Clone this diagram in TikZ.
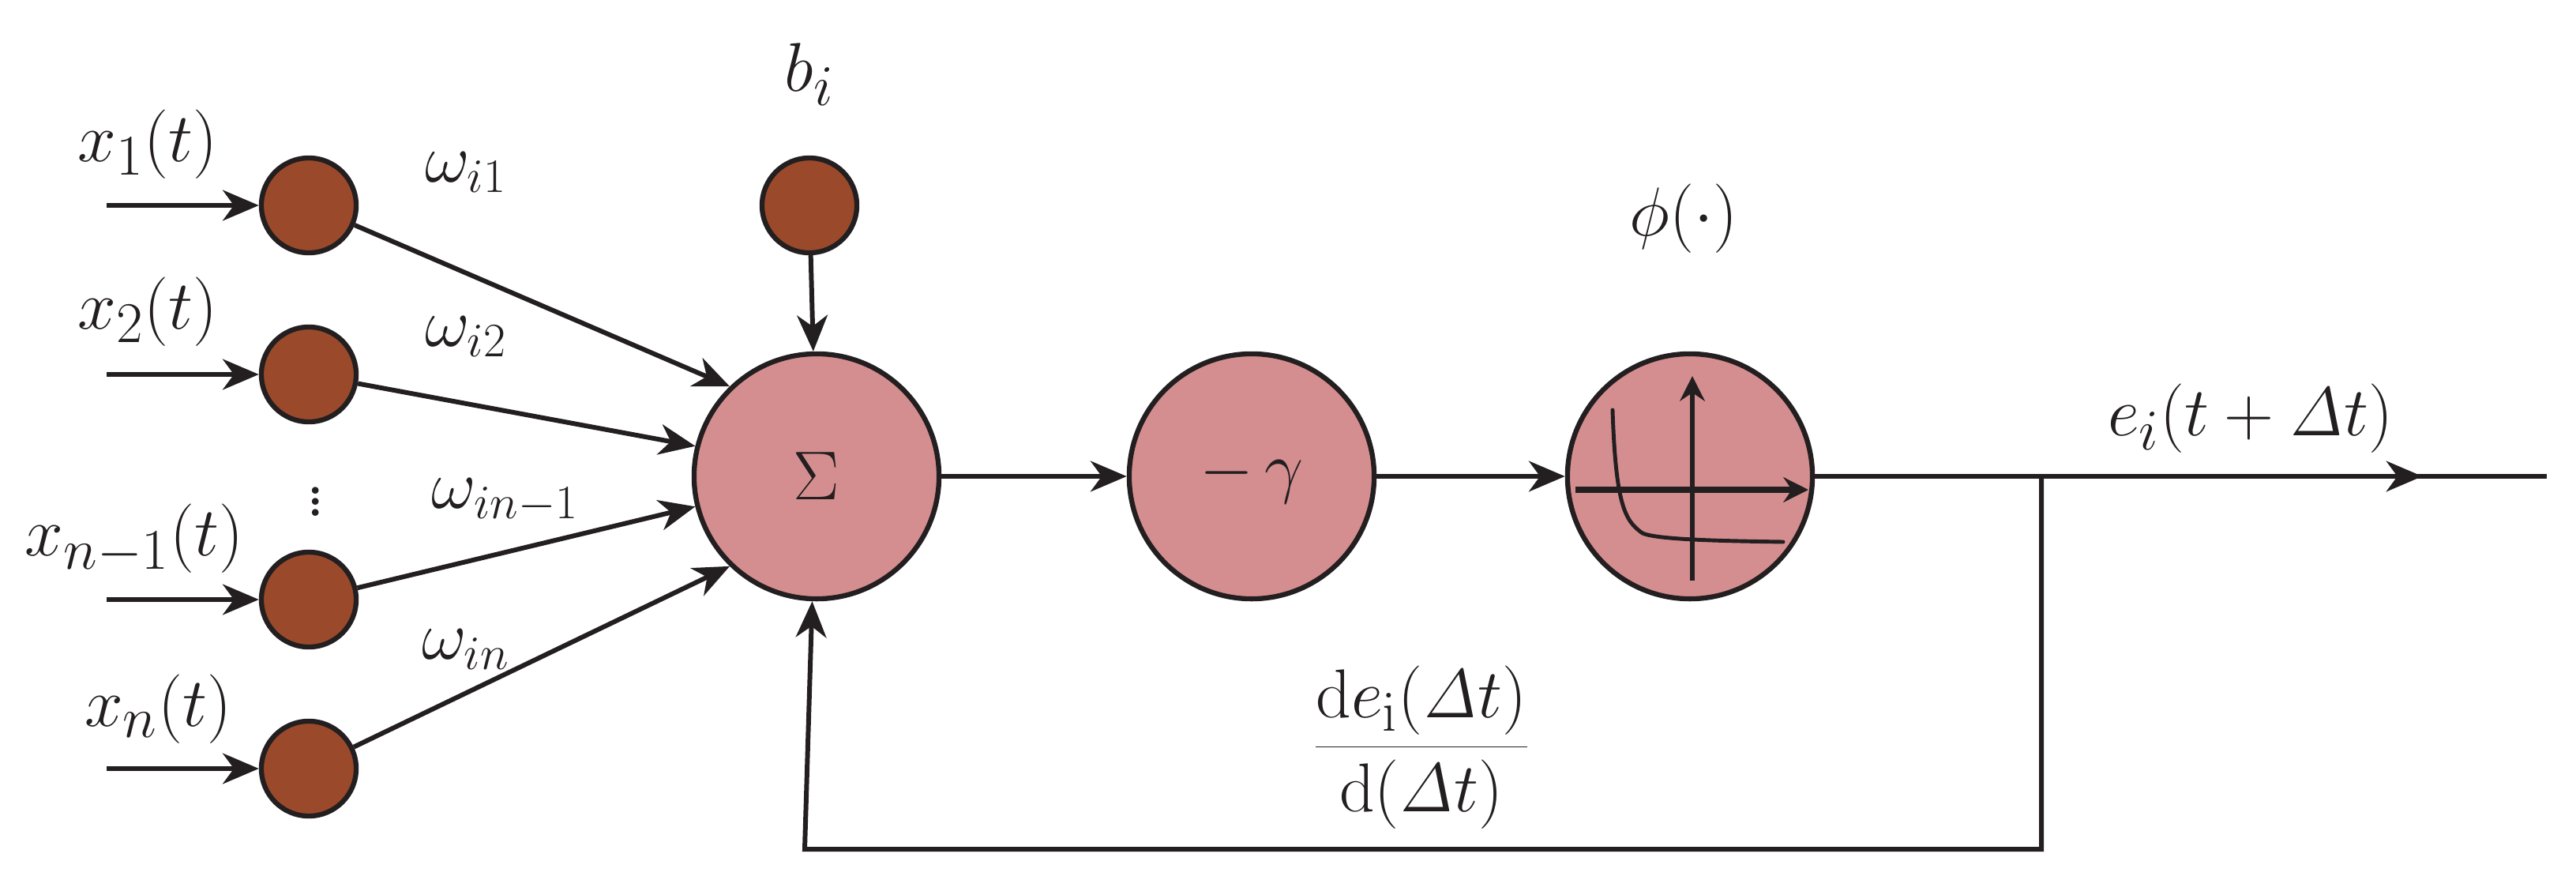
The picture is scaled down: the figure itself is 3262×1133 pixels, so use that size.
\documentclass[tikz,border=0pt]{standalone}
\usetikzlibrary{arrows.meta,decorations.markings}
\definecolor{ln}{HTML}{231F20}
\definecolor{pk}{HTML}{D58E8F}
\definecolor{br}{HTML}{9A4A2A}
\begin{document}
\begin{tikzpicture}[x=0.01cm,y=-0.01cm,line width=1.7pt,draw=ln,
  big/.style={circle,draw=ln,fill=pk,minimum size=3.1cm,inner sep=0pt,line width=1.8pt},
  sm/.style={circle,draw=ln,fill=br,minimum size=1.2cm,inner sep=0pt,line width=1.8pt},
  tip/.style={-{Stealth[length=13pt,width=11pt,inset=4pt]}},
  lab/.style={font=\fontsize{30}{36}\selectfont,text=ln},
  wl/.style={font=\fontsize{25}{30}\selectfont,text=ln},
  midarrow/.style={postaction={decorate},decoration={markings,mark=at position #1 with {\arrow{Stealth[length=13pt,width=11pt,inset=4pt]}}}}]
\useasboundingbox (0,0) rectangle (3262,1133);
\node[big] (sum) at (1034,603) {};
\node[lab] at (1034,603) {$\Sigma$};
\node[big] (gam) at (1585,603) {};
\node[lab] at (1585,603) {$-\,\gamma$};
\node[big] (phi) at (2140,603) {};
\node[sm] (x1) at (391,260) {};
\node[sm] (x2) at (391,474) {};
\node[sm] (x3) at (391,759) {};
\node[sm] (x4) at (391,973) {};
\node[sm] (b) at (1025,260) {};
\coordinate (i1) at (135,260);
\coordinate (i2) at (135,474);
\coordinate (i3) at (135,759);
\coordinate (i4) at (135,973);
\foreach \a/\n in {i1/x1,i2/x2,i3/x3,i4/x4} \draw[tip] (\a) -- (\n);
\draw[tip] (x1) -- (sum.134);
\draw[tip] (x2) -- (sum.166);
\draw[tip] (x3) -- (sum.194);
\draw[tip] (x4) -- (sum.226);
\draw[tip] (b) -- (sum);
\draw[tip] (sum) -- (gam);
\draw[tip] (gam) -- (phi);
\coordinate (out) at (3225,603);
\coordinate (fb) at (2585,603);
\coordinate (fb1) at (2585,1075);
\coordinate (fb2) at (1019,1075);
\draw[midarrow=0.83] (phi) -- (out);
\draw[tip] (fb) -- (fb1) -- (fb2) -- (sum.268);
% activation icon
\coordinate (ax1) at (1995,620);
\coordinate (ax2) at (2290,620);
\coordinate (ay1) at (2143,735);
\coordinate (ay2) at (2143,476);
\draw[line width=2pt,-{Stealth[length=9pt,width=9pt,inset=3pt]}] (ax1) -- (ax2);
\draw[line width=1.5pt,-{Stealth[length=9pt,width=9pt,inset=3pt]}] (ay1) -- (ay2);
\draw[line width=1.4pt,line cap=round] (2042,519) .. controls (2046,640) and (2058,660) .. (2080,675) .. controls (2100,684) and (2200,685) .. (2258,686);
% labels
\node[lab] at (187,183) {$x_1(t)$};
\node[lab] at (187,395) {$x_2(t)$};
\node[lab] at (170,682) {$x_{n-1}(t)$};
\node[lab] at (200,898) {$x_n(t)$};
\node[lab] at (400,625) {$\vdots$};
\node[lab] at (1025,94) {$b_i$};
\node[lab] at (2132,277) {$\phi(\cdot)$};
\node[wl] at (590,218) {$\omega_{i1}$};
\node[wl] at (590,426) {$\omega_{i2}$};
\node[wl] at (640,634) {$\omega_{in-1}$};
\node[wl] at (590,822) {$\omega_{in}$};
\node[lab] at (2850,530) {$e_i(t+\mathit{\Delta} t)$};
\node[lab] at (1800,946) {$\displaystyle\frac{\mathrm{d}e_{\mathrm{i}}(\mathit{\Delta} t)}{\mathrm{d}(\mathit{\Delta} t)}$};
\end{tikzpicture}
\end{document}
